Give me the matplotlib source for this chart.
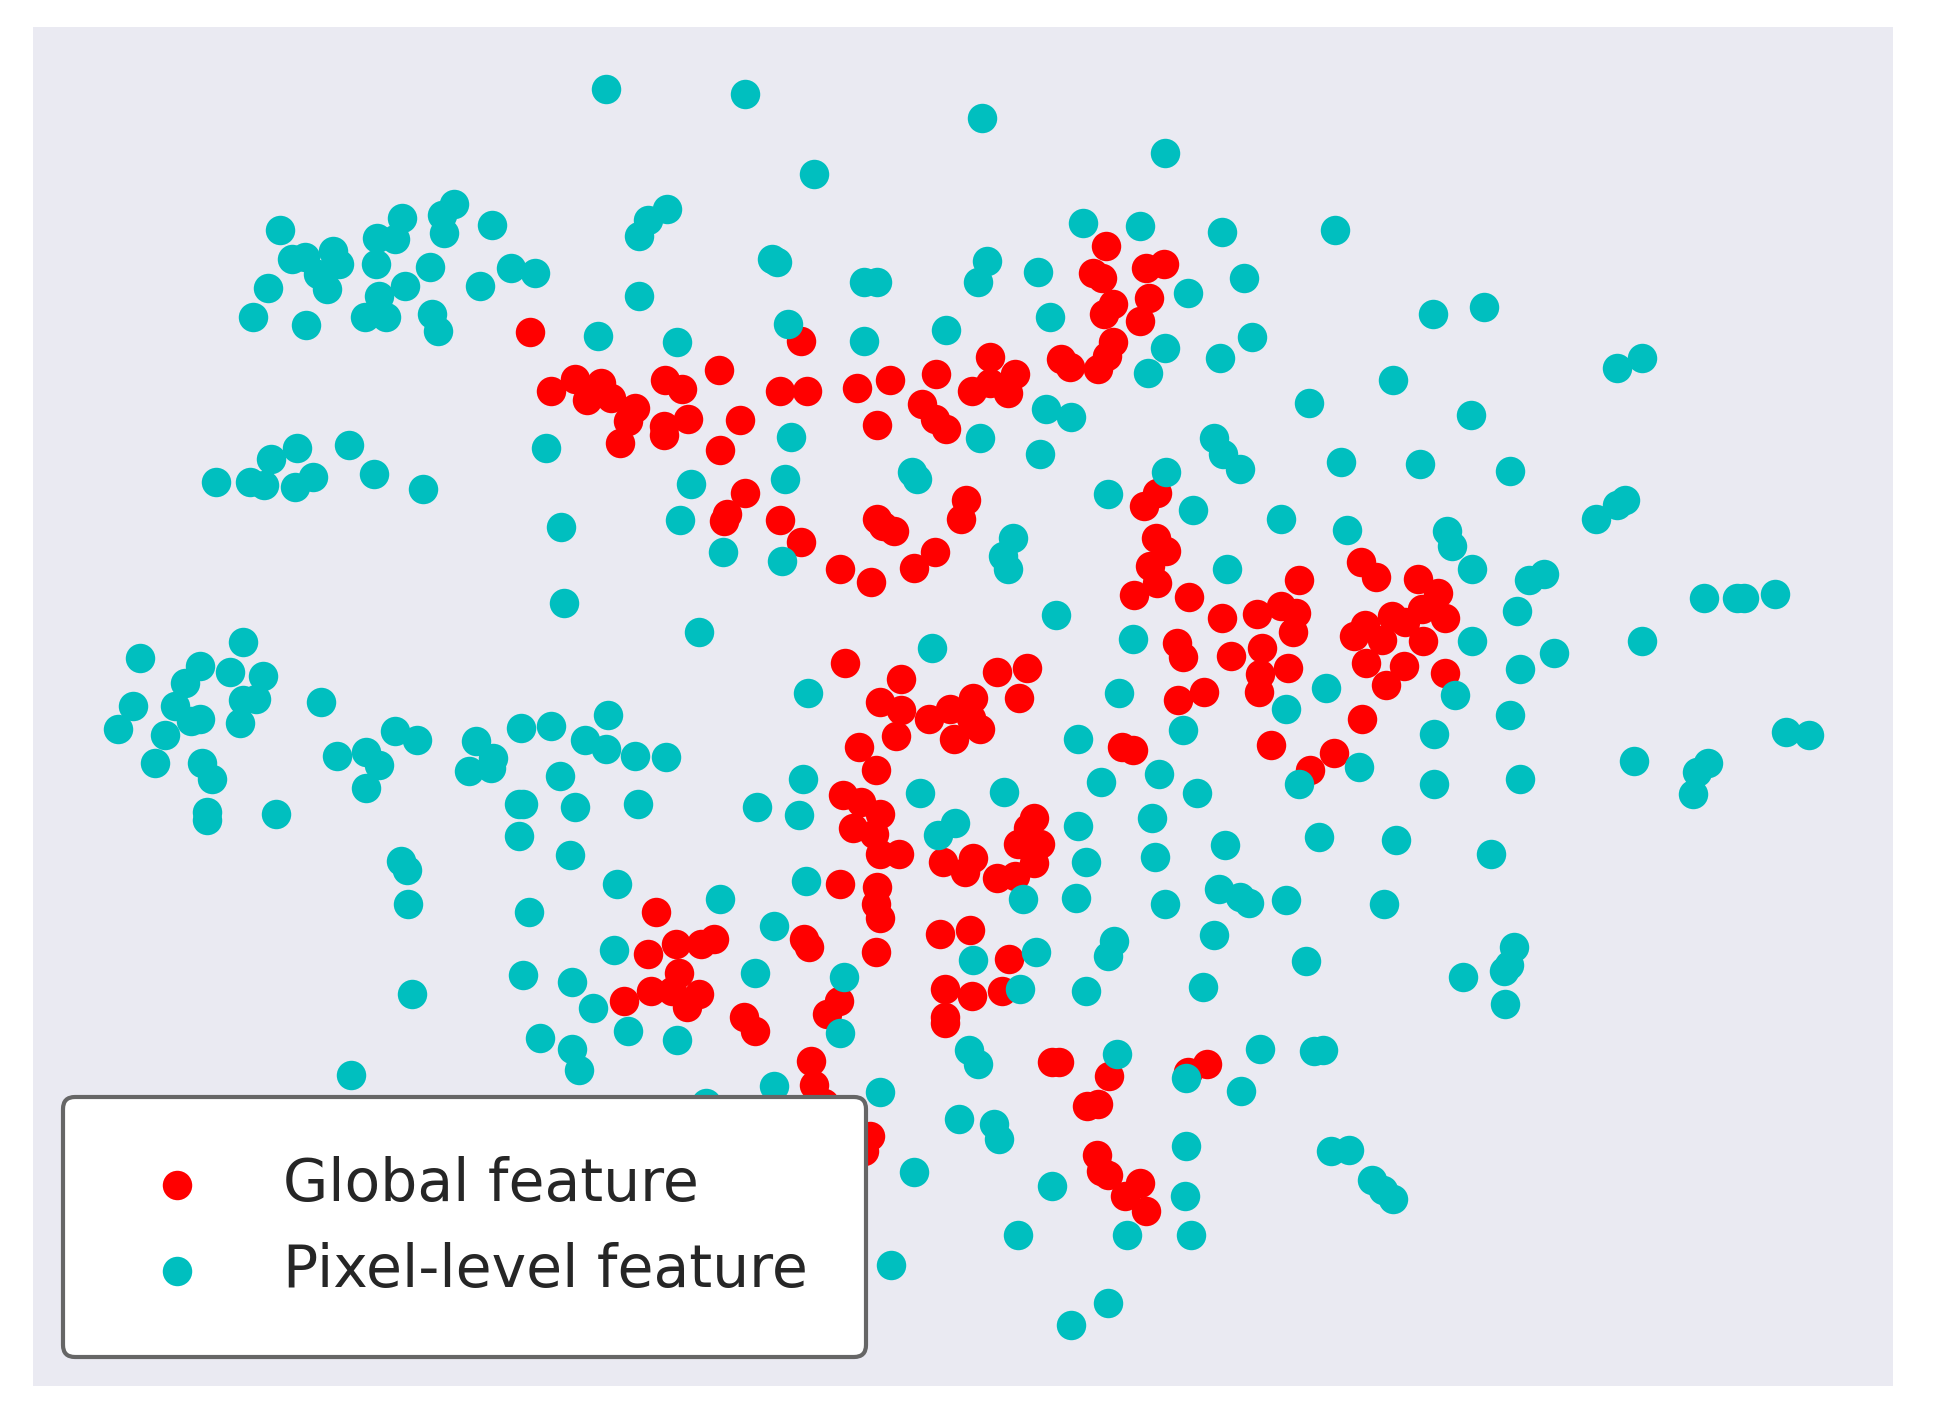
"""t-SNE style scatter of global vs pixel-level features."""
import matplotlib
matplotlib.use("Agg")
import matplotlib.pyplot as plt

# values, (x, y) with y growing downwards
global_feature = [
    (430, 269), (447, 317), (466, 307), (476, 324), (487, 310), (485, 318), (495, 322), (515, 330),
    (509, 341), (503, 359), (538, 345), (538, 352), (539, 308), (553, 315), (558, 339), (583, 300),
    (600, 340), (584, 364), (604, 399), (589, 416), (587, 422), (632, 421), (649, 439), (681, 461),
    (706, 471), (741, 460), (758, 447), (779, 420), (783, 405), (711, 420), (716, 426), (725, 430),
    (649, 276), (632, 317), (654, 317), (695, 314), (721, 308), (711, 344), (747, 327), (759, 303),
    (758, 339), (767, 347), (788, 317), (802, 289), (802, 310), (817, 318), (823, 303), (860, 291),
    (867, 297), (890, 299), (897, 288), (902, 277), (895, 254), (902, 246), (924, 260), (931, 241),
    (893, 225), (886, 221), (896, 199), (929, 217), (943, 214),
    (927, 410), (938, 399), (937, 436), (945, 446), (932, 458), (938, 472), (919, 482), (964, 483),
    (990, 500), (1019, 497), (1038, 491), (1050, 496), (1053, 470), (1048, 512), (1023, 525),
    (998, 531), (954, 521), (959, 532), (1044, 541), (1021, 546), (1020, 560), (976, 560), (955, 567),
    (1030, 603), (1062, 623), (1081, 610), (1104, 582), (1123, 555), (1138, 539), (1107, 537),
    (1171, 545), (1153, 519), (1120, 518), (1097, 515), (1106, 506), (1128, 499), (1139, 504),
    (1152, 493), (1165, 480), (1171, 500), (1149, 469), (1115, 467), (1103, 455),
    (685, 537), (730, 550), (808, 544), (832, 541), (826, 565), (789, 565), (770, 574), (713, 568),
    (730, 575), (753, 582), (787, 581), (794, 590), (773, 598), (726, 596), (696, 605), (710, 623),
    (683, 644), (698, 649), (713, 659), (691, 670), (708, 675), (713, 691), (729, 691), (764, 698),
    (789, 695), (782, 706), (808, 711), (823, 709), (838, 699), (825, 683), (843, 683), (833, 670),
    (838, 662), (681, 716), (711, 718), (710, 732), (713, 743), (710, 771), (762, 756), (786, 753),
    (818, 776), (766, 801), (788, 806), (812, 802), (766, 823), (766, 828), (909, 605), (918, 607),
    (532, 738), (525, 772), (548, 764), (568, 764), (579, 760), (652, 760), (656, 767), (550, 788),
    (528, 802), (545, 802), (567, 805), (557, 815), (506, 810), (603, 823), (612, 835), (680, 810),
    (670, 821), (657, 859), (660, 878), (668, 893), (705, 920), (700, 932), (853, 860), (858, 860),
    (899, 871), (963, 868), (978, 861), (881, 895), (890, 894), (889, 935), (892, 948), (898, 951),
    (924, 958), (912, 968), (929, 980),
]
pixel_feature = [
    (491, 72), (604, 76), (796, 96), (944, 124), (660, 141), (878, 181), (924, 183), (990, 188),
    (1082, 186), (227, 186), (237, 210), (247, 208), (270, 203), (275, 214), (258, 222), (265, 234),
    (217, 233), (205, 257), (248, 263), (296, 257), (307, 240), (313, 257), (305, 214), (306, 193),
    (320, 194), (326, 177), (349, 216), (328, 232), (350, 254), (355, 268), (389, 232), (399, 182),
    (358, 174), (368, 165), (360, 189), (414, 217), (434, 221), (541, 169), (525, 178), (518, 191),
    (518, 240), (485, 272), (549, 277), (626, 210), (630, 212), (639, 262), (700, 228), (711, 228),
    (700, 276), (767, 267), (800, 211), (793, 228), (841, 220), (851, 257), (963, 237), (1008, 225),
    (1015, 273), (944, 282), (989, 290), (930, 302), (848, 331), (868, 338), (794, 355), (843, 368),
    (1161, 254), (1203, 249), (1129, 308), (1061, 326), (1192, 336), (1310, 298), (1331, 290),
    (443, 363), (641, 354), (560, 392), (636, 388), (739, 382), (743, 388), (551, 421), (586, 447),
    (634, 454), (455, 427), (457, 488), (567, 512), (175, 390), (203, 390), (214, 393), (239, 394),
    (220, 372), (241, 363), (254, 386), (283, 360), (303, 384), (343, 396), (984, 355), (991, 368),
    (1005, 380), (1087, 374), (1151, 376), (1224, 381), (945, 382), (898, 400), (967, 413),
    (1038, 420), (1092, 429), (1173, 430), (1177, 442), (1193, 461), (994, 461), (821, 436),
    (813, 450), (817, 461), (856, 498), (1293, 420), (1310, 409), (1317, 405), (1239, 470),
    (1251, 465), (1229, 495), (1193, 519), (1259, 529), (1232, 542), (1179, 563), (1224, 579),
    (1381, 484), (1408, 484), (1413, 484), (1438, 481), (1331, 519), (1447, 593), (1466, 595),
    (1324, 616), (1384, 618), (1375, 625), (1372, 643), (1232, 631), (1162, 594), (1162, 635),
    (1101, 621), (1075, 557), (1042, 574), (959, 591), (907, 561), (918, 517), (755, 525), (655, 561),
    (874, 598), (892, 633), (939, 627), (970, 642), (1053, 635),
    (114, 533), (162, 539), (197, 520), (187, 544), (213, 547), (150, 553), (142, 572), (108, 572),
    (96, 590), (134, 595), (155, 584), (162, 582), (197, 567), (208, 566), (195, 585), (260, 568),
    (320, 592), (338, 599), (273, 612), (297, 609), (307, 619), (297, 638), (126, 618), (164, 618),
    (172, 631), (168, 657), (168, 664), (224, 659), (386, 600), (400, 614), (398, 622), (380, 624),
    (422, 589), (447, 588), (474, 599), (491, 606), (493, 579), (515, 612), (540, 613), (454, 628),
    (466, 653), (517, 651), (421, 651), (424, 651), (421, 677), (462, 692), (500, 716), (325, 697),
    (330, 704), (331, 732), (429, 738), (584, 728), (651, 631), (648, 660), (614, 653), (746, 642),
    (814, 641), (774, 666), (760, 676), (874, 669), (880, 698), (934, 662), (936, 694), (993, 684),
    (1069, 678), (1131, 680), (1208, 691), (653, 713), (829, 728), (872, 727), (944, 732), (988, 720),
    (1005, 726), (1012, 731), (1042, 729), (1122, 732), (627, 750), (498, 769), (424, 789), (464, 795),
    (612, 788), (684, 791), (789, 777), (840, 771), (903, 762), (898, 774), (984, 757), (1058, 778),
    (1227, 767), (1223, 781), (1219, 786), (1186, 791), (1220, 813), (334, 805), (827, 801), (880, 802),
    (975, 799), (481, 816), (509, 835), (549, 842), (438, 840), (464, 849), (469, 866), (681, 836),
    (785, 850), (793, 861), (905, 853), (1021, 849), (1065, 851), (1072, 850), (285, 870), (961, 873),
    (1006, 883), (627, 879), (713, 884), (572, 893), (777, 906), (806, 910), (810, 922), (961, 928),
    (1079, 932), (1093, 931), (1112, 955), (1121, 963), (1129, 971), (741, 949), (853, 960), (960, 968),
    (825, 1000), (913, 1000), (965, 1000), (722, 1024), (898, 1055), (868, 1073),
]
series_labels = ["Global feature", "Pixel-level feature"]

W, H = 1935, 1422
fig = plt.figure(figsize=(W / 300, H / 300), dpi=300)
ax = fig.add_axes([33 / W, 1 - 1386 / H, (1893 - 33) / W, (1386 - 27) / H])
ax.set_facecolor("#EAEAF2")
for spine in ax.spines.values():
    spine.set_visible(False)
ax.set_xticks([])
ax.set_yticks([])

ax.scatter(*zip(*global_feature), s=50, color="#FF0000", linewidths=0, label=series_labels[0])
ax.scatter(*zip(*pixel_feature), s=50, color="#00BFBF", linewidths=0, label=series_labels[1])

ax.set_xlim(27, 1534)
ax.set_ylim(1122, 22)

leg = ax.legend(
    loc="lower left", bbox_to_anchor=((63 - 33) / 1860, (1386 - 1357) / 1359), borderaxespad=0,
    fontsize=14, frameon=True, fancybox=True, framealpha=1, facecolor="white", edgecolor="#666666",
    borderpad=1.0, labelspacing=0.5, handlelength=1.9, handletextpad=0.87, labelcolor="#262626",
)
leg.get_frame().set_linewidth(1.0)

plt.savefig("out.png", dpi=300)
